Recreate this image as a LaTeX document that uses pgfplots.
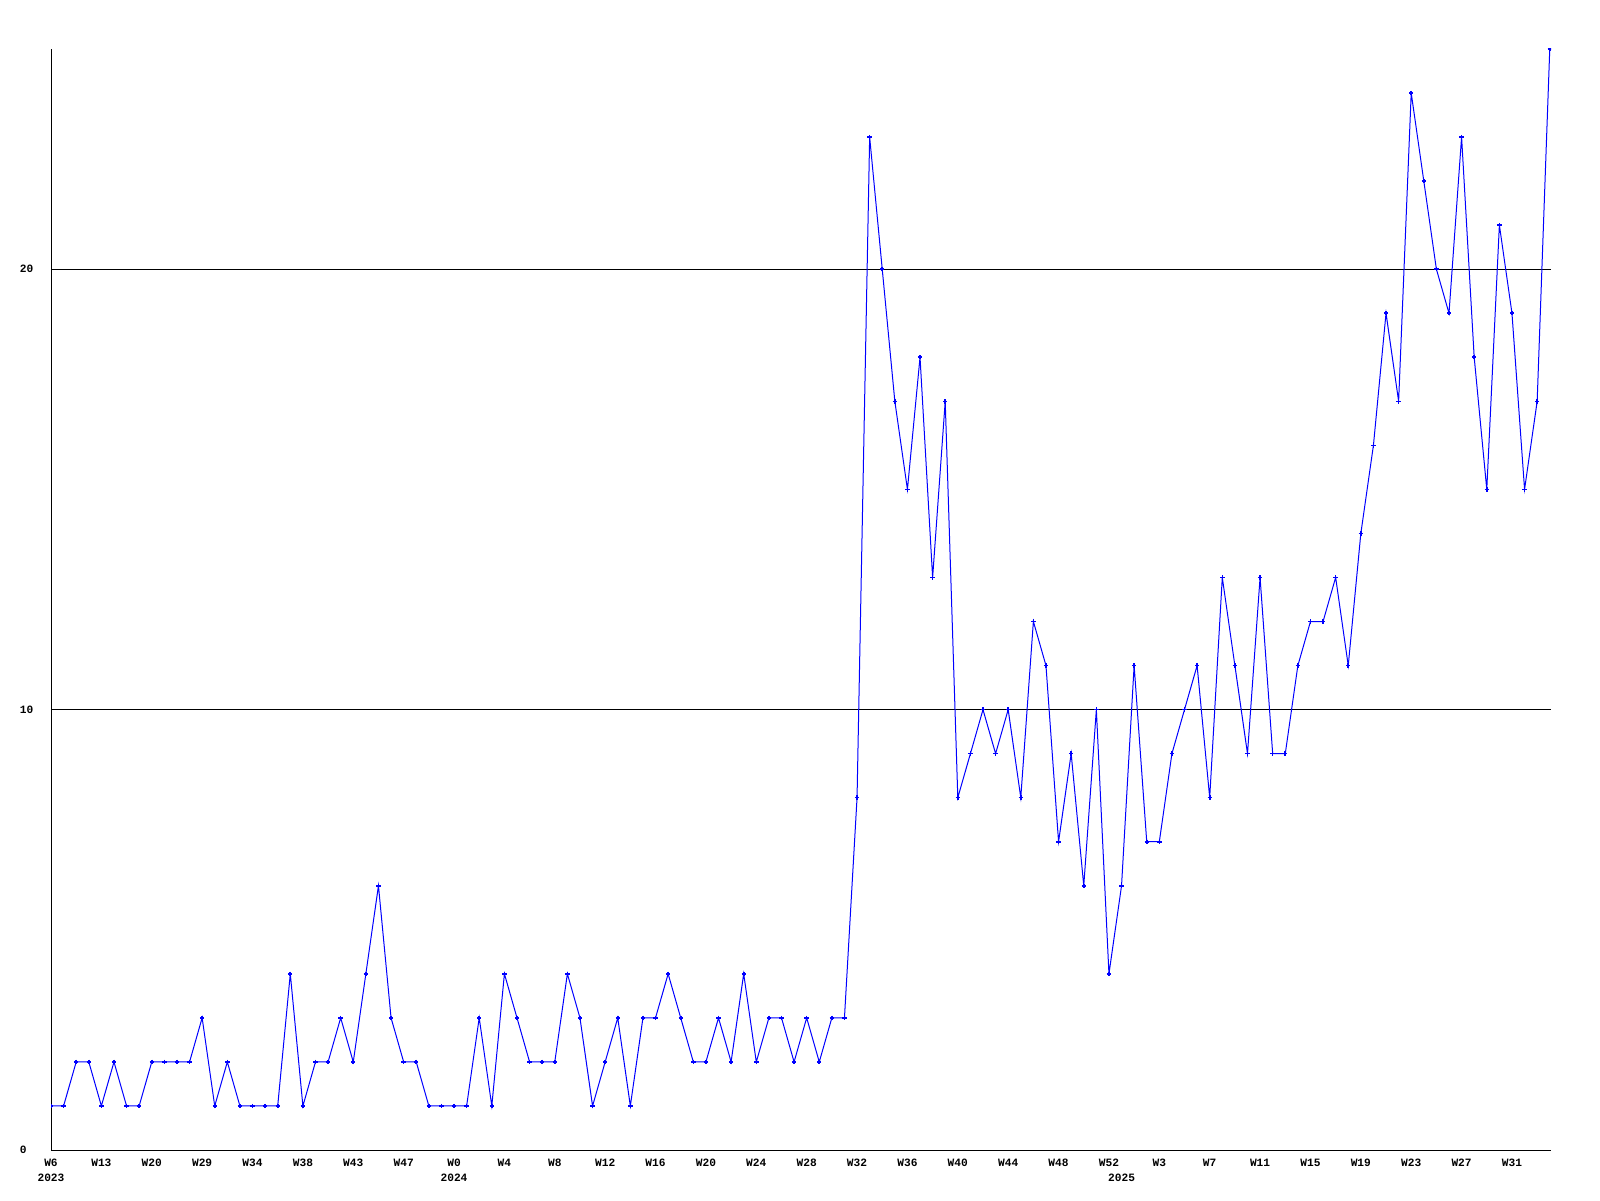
\documentclass[border=0pt]{standalone}
\usepackage{fontspec}
\setmainfont{Liberation Mono}
\usepackage{pgfplots}
\pgfplotsset{compat=1.18}
\begin{document}
\begin{tikzpicture}
\path[use as bounding box, fill=white] (-25.5pt,-25pt) rectangle (774.5pt,575pt);
\begin{axis}[
  at={(0,0)}, anchor=south west,
  scale only axis, width=750pt, height=550.5pt,
  xmin=0, xmax=119.1, ymin=0, ymax=25,
  axis x line=bottom, axis y line=left,
  axis line style={-, black, line width=0.5pt},
  major tick length=0pt,
  clip marker paths=true,
  ytick={0,10,20},
  ymajorgrids, grid style={black, line width=0.5pt},
  xtick={0,4,...,116},
  xticklabels={W6,W13,W20,W29,W34,W38,W43,W47,W0,W4,W8,W12,W16,W20,W24,W28,W32,W36,W40,W44,W48,W52,W3,W7,W11,W15,W19,W23,W27,W31},
  extra x ticks={0,32,85},
  extra x tick labels={2023,2024,2025},
  extra x tick style={xticklabel style={yshift=-7.5pt}},
  x tick label style={anchor=base, yshift=-8pt, inner sep=0pt, font=\fontsize{5.6}{6}\selectfont\bfseries},
  y tick label style={anchor=west, xshift=-15.75pt, inner sep=0pt, font=\fontsize{5.6}{6}\selectfont\bfseries},
  /pgf/number format/assume math mode=true,
]
\addplot[color={rgb,255:red,0;green,0;blue,255}, line width=0.5pt, mark=+, mark size=1.1pt, mark options={line width=0.8pt}] coordinates {
(0,1)(1,1)(2,2)(3,2)(4,1)(5,2)(6,1)(7,1)(8,2)(9,2)
(10,2)(11,2)(12,3)(13,1)(14,2)(15,1)(16,1)(17,1)(18,1)(19,4)
(20,1)(21,2)(22,2)(23,3)(24,2)(25,4)(26,6)(27,3)(28,2)(29,2)
(30,1)(31,1)(32,1)(33,1)(34,3)(35,1)(36,4)(37,3)(38,2)(39,2)
(40,2)(41,4)(42,3)(43,1)(44,2)(45,3)(46,1)(47,3)(48,3)(49,4)
(50,3)(51,2)(52,2)(53,3)(54,2)(55,4)(56,2)(57,3)(58,3)(59,2)
(60,3)(61,2)(62,3)(63,3)(64,8)(65,23)(66,20)(67,17)(68,15)(69,18)
(70,13)(71,17)(72,8)(73,9)(74,10)(75,9)(76,10)(77,8)(78,12)(79,11)
(80,7)(81,9)(82,6)(83,10)(84,4)(85,6)(86,11)(87,7)(88,7)(89,9)
(90,10)(91,11)(92,8)(93,13)(94,11)(95,9)(96,13)(97,9)(98,9)(99,11)
(100,12)(101,12)(102,13)(103,11)(104,14)(105,16)(106,19)(107,17)(108,24)(109,22)
(110,20)(111,19)(112,23)(113,18)(114,15)(115,21)(116,19)(117,15)(118,17)(119,25)
};
\end{axis}
\end{tikzpicture}
\end{document}
